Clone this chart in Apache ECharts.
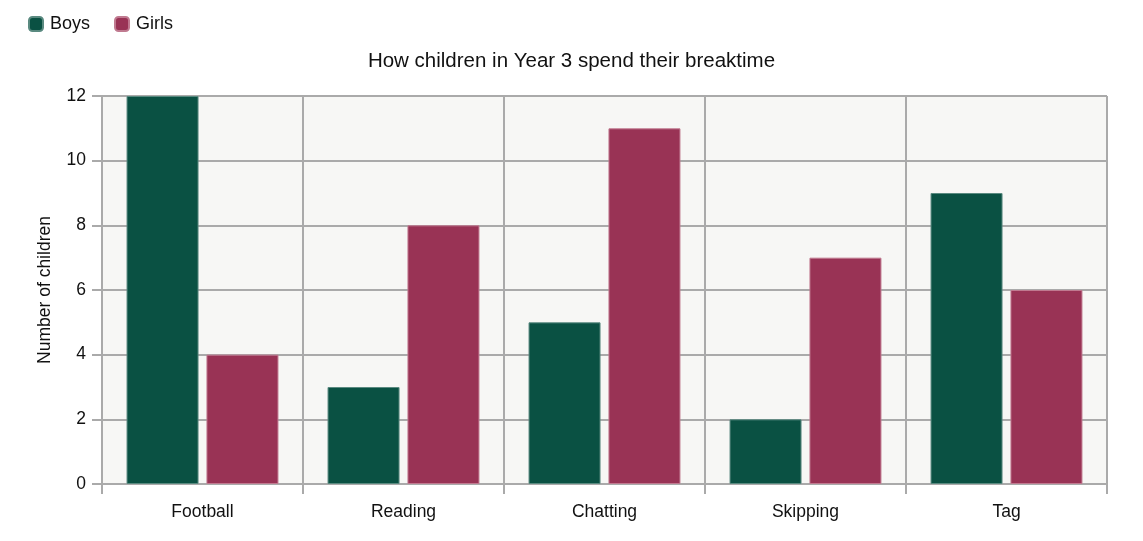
<!DOCTYPE html>
<html>
<head>
<meta charset="utf-8">
<script src="https://cdn.jsdelivr.net/npm/echarts@6/dist/echarts.min.js"></script>
<style>
  html, body { margin: 0; padding: 0; background: #fff; }
</style>
</head>
<body>
<div id="echart-bar" style="width:1143px; height:541px;"></div>
<script>
  var categories = ['Football', 'Reading', 'Chatting', 'Skipping', 'Tag'];
  var boys = [12, 3, 5, 2, 9];
  var girls = [4, 8, 11, 7, 6];
  var yTicks = [0, 2, 4, 6, 8, 10, 12];

  var font = 'Arial, Liberation Sans';
  var getchart = echarts.init(document.getElementById('echart-bar'));
  var option = {
    title: {
      text: 'How children in Year 3 spend their breaktime',
      left: 'center',
      top: 46,
      textStyle: { fontFamily: font, fontSize: 20.5, fontWeight: 'normal', color: '#111' }
    },
    legend: {
      data: ['Boys', 'Girls'],
      left: 23,
      top: 10,
      icon: 'roundRect',
      itemWidth: 14,
      itemHeight: 14,
      itemGap: 24,
      textStyle: { fontFamily: font, fontSize: 18, color: '#111', padding: [0, 0, 0, 2] }
    },
    grid: {
      left: 102,
      right: 36,
      top: 96,
      bottom: 57,
      show: true,
      backgroundColor: '#f7f7f5',
      borderWidth: 0
    },
    xAxis: {
      type: 'category',
      data: categories,
      axisLine: { lineStyle: { color: '#aaa', width: 2 } },
      axisTick: { show: true, length: 10, lineStyle: { color: '#aaa', width: 2 } },
      splitLine: { show: true, lineStyle: { color: '#aaa', width: 2 } },
      axisLabel: { fontFamily: font, fontSize: 17.5, color: '#111', margin: 19 }
    },
    yAxis: {
      type: 'value',
      min: yTicks[0],
      max: yTicks[yTicks.length - 1],
      interval: 2,
      name: 'Number of children',
      nameLocation: 'middle',
      nameGap: 48,
      nameTextStyle: { fontFamily: font, fontSize: 17.5, color: '#111' },
      axisLine: { show: false },
      axisTick: { show: true, length: 10, lineStyle: { color: '#aaa', width: 2 } },
      splitLine: { show: true, lineStyle: { color: '#aaa', width: 2 } },
      axisLabel: { fontFamily: font, fontSize: 17.5, color: '#111', margin: 16 }
    },
    series: [
      {
        name: 'Boys',
        type: 'bar',
        data: boys,
        barWidth: 72,
        barGap: '11%',
        itemStyle: { color: '#0a5143', borderColor: '#5a8a80', borderWidth: 1 }
      },
      {
        name: 'Girls',
        type: 'bar',
        data: girls,
        barWidth: 72,
        barGap: '11%',
        itemStyle: { color: '#993355', borderColor: '#c07a90', borderWidth: 1 }
      }
    ]
  };
  getchart.setOption(option);
  window.addEventListener('resize', function () {
    getchart.resize();
  });
</script>
</body>
</html>
